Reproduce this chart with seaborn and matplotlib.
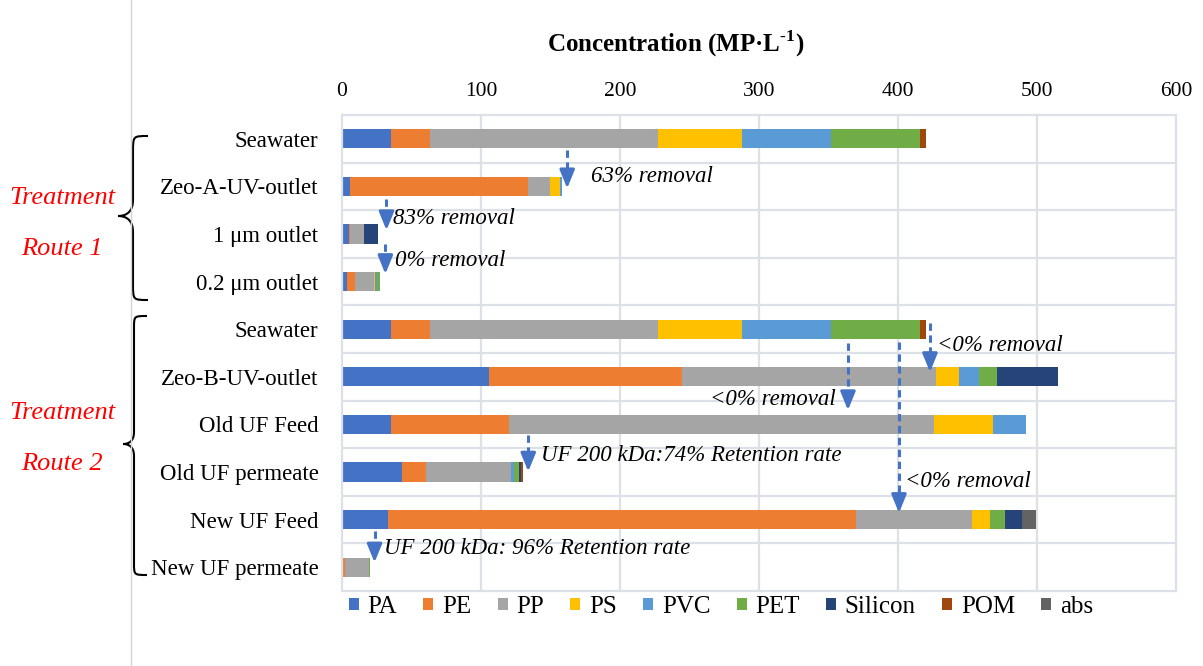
import numpy as np
import pandas as pd
import matplotlib
matplotlib.use("Agg")
import matplotlib.pyplot as plt
import seaborn as sns
from matplotlib.path import Path
from matplotlib.patches import PathPatch, Patch
from matplotlib.lines import Line2D

# ---------------- data ----------------
samples = ["Seawater", "Zeo-A-UV-outlet", "1 μm outlet", "0.2 μm outlet",
           "Seawater", "Zeo-B-UV-outlet", "Old UF Feed", "Old UF permeate",
           "New UF Feed", "New UF permeate"]
polymers = ["PA", "PE", "PP", "PS", "PVC", "PET", "Silicon", "POM", "abs"]

PA      = [35.5,   6.0, 5.0,  3.5, 35.5, 105.5,  35.5, 43.0,  33.0,  0.0]
PE      = [28.0, 127.5, 1.0,  5.5, 28.0, 139.0,  84.5, 17.5, 337.0,  2.0]
PP      = [164.0, 16.0, 9.5, 14.0, 164.0, 183.0, 306.0, 61.0,  83.0, 17.5]
PS      = [60.5,   7.0, 0.0,  0.7, 60.5,  16.5,  42.0,  0.0,  13.5,  0.0]
PVC     = [64.0,   1.5, 0.0,  1.5, 64.0,  14.0,  24.0,  2.5,   0.0,  0.0]
PET     = [63.5,   0.0, 0.0,  2.0, 63.5,  13.5,   0.0,  3.5,  10.5,  1.0]
Silicon = [0.0,    0.0, 10.5, 0.0,  0.0,  43.5,   0.0,  1.5,  12.5,  0.0]
POM     = [5.0,    0.0, 0.0,  0.0,  5.0,   0.0,   0.0,  1.5,   0.0,  0.0]
ABS     = [0.0,    0.0, 0.0,  0.0,  0.0,   0.0,   0.0,  0.0,  10.0,  0.0]

x_ticks = [0, 100, 200, 300, 400, 500, 600]

colors = ["#4472C4", "#ED7D31", "#A5A5A5", "#FFC000", "#5B9BD5",
          "#70AD47", "#264478", "#9E480E", "#636363"]

# ---------------- figure ----------------
W, H = 1203, 666
sns.set_theme(style="white")
plt.rcParams["font.family"] = ["Liberation Serif", "DejaVu Serif"]
plt.rcParams["mathtext.fontset"] = "custom"
plt.rcParams["mathtext.rm"] = "Liberation Serif:bold"
plt.rcParams["mathtext.bf"] = "Liberation Serif:bold"
for key in ["text.color", "axes.labelcolor", "xtick.color", "ytick.color"]:
    plt.rcParams[key] = "black"

fig = plt.figure(figsize=(W / 100, H / 100), dpi=100)

def fx(x):
    return x / W

def fy(y):
    return 1 - y / H

ax_l, ax_r, ax_t, ax_b = 342, 1176, 115, 591
ax = fig.add_axes([fx(ax_l), fy(ax_b), fx(ax_r - ax_l), (ax_b - ax_t) / H])

df = pd.DataFrame({"PA": PA, "PE": PE, "PP": PP, "PS": PS, "PVC": PVC,
                   "PET": PET, "Silicon": Silicon, "POM": POM, "abs": ABS})
df["row"] = np.arange(len(samples))
cum = df[polymers].cumsum(axis=1)

grid_c = "#DCE1E8"
for xv in x_ticks[1:-1]:
    ax.axvline(xv, color=grid_c, lw=1.6, zorder=0)
for yv in np.arange(0.5, len(samples) - 0.5, 1):
    ax.axhline(yv, color=grid_c, lw=1.6, zorder=0)

# stacked bars: cumulative totals drawn from outermost to innermost
for k in range(len(polymers) - 1, -1, -1):
    sns.barplot(x=cum[polymers[k]], y=df["row"], orient="h", color=colors[k],
                width=0.4, linewidth=0, saturation=1, errorbar=None, ax=ax,
                zorder=2)

ax.set_xlim(0, 600)
ax.set_ylim(len(samples) - 0.5, -0.5)
ax.set_xticks(x_ticks)
ax.set_xticklabels([str(t) for t in x_ticks], fontsize=15.5)
ax.xaxis.tick_top()
ax.tick_params(axis="x", length=0, pad=10, colors="black")
ax.set_yticks(range(len(samples)))
ax.set_yticklabels(samples, fontsize=16.5)
ax.tick_params(axis="y", length=0, pad=17, colors="black")
ax.set_xlabel("")
ax.set_ylabel("")
for s in ax.spines.values():
    s.set_color(grid_c)
    s.set_linewidth(1.6)

# title
fig.text(fx(676), fy(44), r"Concentration (MP·L$^{\text{-1}}$)", fontsize=18,
         fontweight="bold", ha="center", va="center", color="black")

# ---------------- arrows and annotations ----------------
blue = "#4472C4"

def arrow(x, y0, y1, head=0.33):
    ax.plot([x, x], [y0, y1 - head], color=blue, lw=2.2, ls=(0, (2.4, 1.5)),
            zorder=4, dash_capstyle="butt")
    ax.annotate("", xy=(x, y1), xytext=(x, y1 - head),
                arrowprops=dict(arrowstyle="-|>,head_length=1.1,head_width=0.45",
                                color=blue, lw=2.2, shrinkA=0, shrinkB=0,
                                mutation_scale=10), zorder=5)

def note(x, y, s, ha="left"):
    ax.text(x, y, s, fontsize=16.5, fontstyle="italic", ha=ha, va="center",
            color="black", zorder=6)

arrow(162, 0.24, 1.04)
note(179, 0.80, "63% removal")
arrow(32, 1.27, 1.92)
note(36.5, 1.67, "83% removal")
arrow(31.2, 2.20, 2.84)
note(38, 2.55, "0% removal")
arrow(423, 3.88, 4.90)
note(428, 4.35, "<0% removal")
arrow(364, 4.28, 5.70)
note(355, 5.47, "<0% removal", ha="right")
arrow(400.7, 4.26, 7.86)
note(405, 7.20, "<0% removal")
arrow(134, 6.22, 6.99)
note(143, 6.66, "UF 200 kDa:74% Retention rate")
arrow(23.4, 8.24, 8.90)
note(30, 8.60, "UF 200 kDa: 96% Retention rate")

# ---------------- legend ----------------
handles = [Patch(facecolor=c, edgecolor="none", label=p) for p, c in zip(polymers, colors)]
fig.legend(handles=handles, loc="center", bbox_to_anchor=(fx(721), fy(607)),
           ncol=len(polymers), frameon=False, fontsize=18, handlelength=0.4,
           handleheight=0.4, handletextpad=0.35, columnspacing=1.05)

# ---------------- braces & route labels ----------------
def brace(xv, xtip, xend, ytop, ytip, ybot, r):
    pts = [
        (xend, ytop), (xv, ytop), (xv, ytop), (xv, ytop + r),
        (xv, ytip - r), (xv, ytip - r * 0.3), (xv - (xv - xtip) * 0.4, ytip), (xtip, ytip),
        (xv - (xv - xtip) * 0.4, ytip), (xv, ytip + r * 0.3), (xv, ytip + r),
        (xv, ybot - r), (xv, ybot), (xv, ybot), (xend, ybot),
    ]
    codes = [Path.MOVETO, Path.CURVE4, Path.CURVE4, Path.CURVE4,
             Path.LINETO, Path.CURVE4, Path.CURVE4, Path.CURVE4,
             Path.CURVE4, Path.CURVE4, Path.CURVE4,
             Path.LINETO, Path.CURVE4, Path.CURVE4, Path.CURVE4]
    verts = [(fx(x), fy(y)) for x, y in pts]
    patch = PathPatch(Path(verts, codes), facecolor="none", edgecolor="black",
                      lw=1.5, transform=fig.transFigure)
    fig.patches.append(patch)

brace(133, 118, 148, 136, 216, 300, 16)
brace(134, 123, 147, 316, 444, 575, 12)

fig.add_artist(Line2D([fx(131), fx(131)], [0, 1], color="#D3D3D3", lw=1,
                      transform=fig.transFigure))

red = "#FF0000"
for txt, y in [("Treatment", 198), ("Route 1", 249), ("Treatment", 413), ("Route 2", 464)]:
    fig.text(fx(62), fy(y), txt, color=red, fontsize=19, fontstyle="italic",
             ha="center", va="center")

fig.savefig("out.png", dpi=100)
